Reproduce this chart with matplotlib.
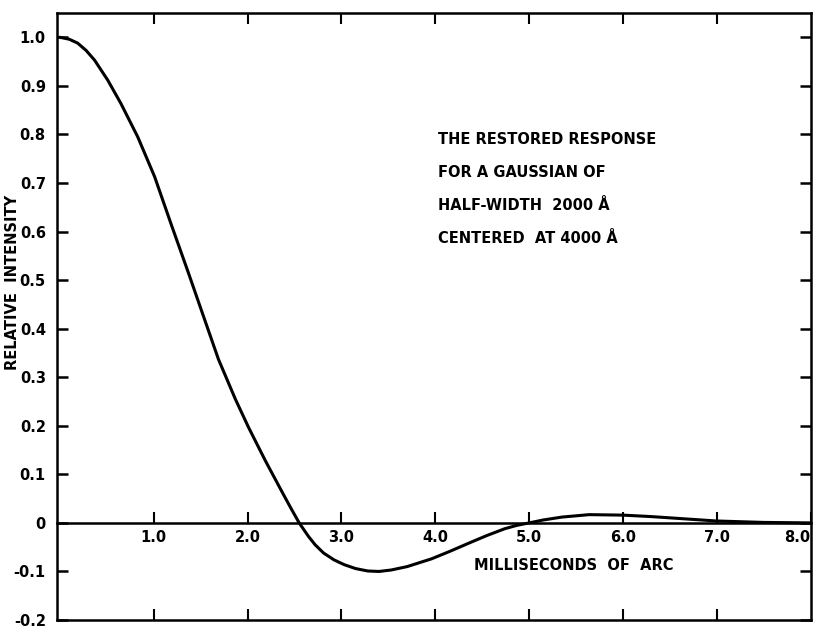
import numpy as np
import matplotlib
matplotlib.use('Agg')
import matplotlib.pyplot as plt

# curve (milliseconds of arc, relative intensity)
x_ms = [0.0, 0.10, 0.19, 0.28, 0.37, 0.51, 0.65, 0.83, 1.01, 1.19, 1.37, 1.51,
        1.69, 1.87, 2.01, 2.19, 2.37, 2.46, 2.55, 2.65, 2.72, 2.81, 2.92, 3.03, 3.15, 3.28,
        3.40, 3.53, 3.70, 3.96, 4.15, 4.39, 4.55, 4.74, 4.87, 5.0, 5.15, 5.35,
        5.64, 6.0, 6.30, 6.53, 6.99, 7.5, 8.0]
y_int = [1.0, 0.996, 0.988, 0.973, 0.953, 0.912, 0.864, 0.795, 0.713, 0.613, 0.515, 0.437,
         0.337, 0.255, 0.197, 0.128, 0.063, 0.031, 0.0, -0.028, -0.045, -0.062, -0.076, -0.086, -0.094, -0.099,
         -0.100, -0.097, -0.090, -0.074, -0.059, -0.039, -0.026, -0.012, -0.005, 0.0, 0.006, 0.012,
         0.017, 0.016, 0.013, 0.010, 0.004, 0.001, 0.0]

y_ticks = [-0.2, -0.1, 0, 0.1, 0.2, 0.3, 0.4, 0.5, 0.6, 0.7, 0.8, 0.9, 1.0]
y_ticklabels = ['-0.2', '-0.1', '0', '0.1', '0.2', '0.3', '0.4', '0.5', '0.6', '0.7', '0.8', '0.9', '1.0']
x_ticks = [1, 2, 3, 4, 5, 6, 7, 8]
x_ticklabels = ['1.0', '2.0', '3.0', '4.0', '5.0', '6.0', '7.0', '8.0']

note = ['THE RESTORED RESPONSE', 'FOR A GAUSSIAN OF',
        'HALF-WIDTH  2000 Å', 'CENTERED  AT 4000 Å']

plt.rcParams['font.family'] = ['DejaVu Sans']
plt.rcParams['font.weight'] = 'bold'

fig = plt.figure(figsize=(8.14, 6.28), dpi=100)
ax = fig.add_axes([0.070, 0.0127, 0.926, 0.9666])
ymin, ymax = -0.2, 1.05
ax.set_xlim(-0.03, 8.0)
ax.set_ylim(ymin, ymax)

ax.plot(x_ms, y_int, color='black', lw=2.2, solid_joinstyle='round', solid_capstyle='round')

for s in ax.spines.values():
    s.set_linewidth(1.8)

ax.set_yticks(y_ticks)
ax.set_yticklabels(y_ticklabels, fontsize=10.5, fontweight='bold')
ax.set_xticks(x_ticks[:-1])
ax.set_xticklabels([])
ax.tick_params(axis='y', direction='in', length=8, width=1.8, right=True, pad=8)
ax.tick_params(axis='x', direction='in', length=8, width=1.5, top=True)

# zero line carries the x tick labels
zero = ax.secondary_xaxis((0 - ymin) / (ymax - ymin))
zero.spines['bottom'].set_linewidth(1.8)
zero.set_xticks(x_ticks)
labs = zero.set_xticklabels(x_ticklabels, fontsize=10.5, fontweight='bold')
labs[-1].set_horizontalalignment('right')
zero.tick_params(direction='in', length=8, width=1.5, pad=5)

ax.text(0.553, 0.090, 'MILLISECONDS  OF  ARC', transform=ax.transAxes,
        fontsize=10.5, fontweight='bold', va='center', ha='left')
fig.text(0.015, 0.551, 'RELATIVE  INTENSITY', rotation=90, fontsize=10.5,
         fontweight='bold', ha='center', va='center')

for i, line in enumerate(note):
    ax.text(0.506, 0.792 - i * 0.0545, line, transform=ax.transAxes,
            fontsize=10.5, fontweight='bold', va='center', ha='left')

fig.savefig('out.png', dpi=100)
